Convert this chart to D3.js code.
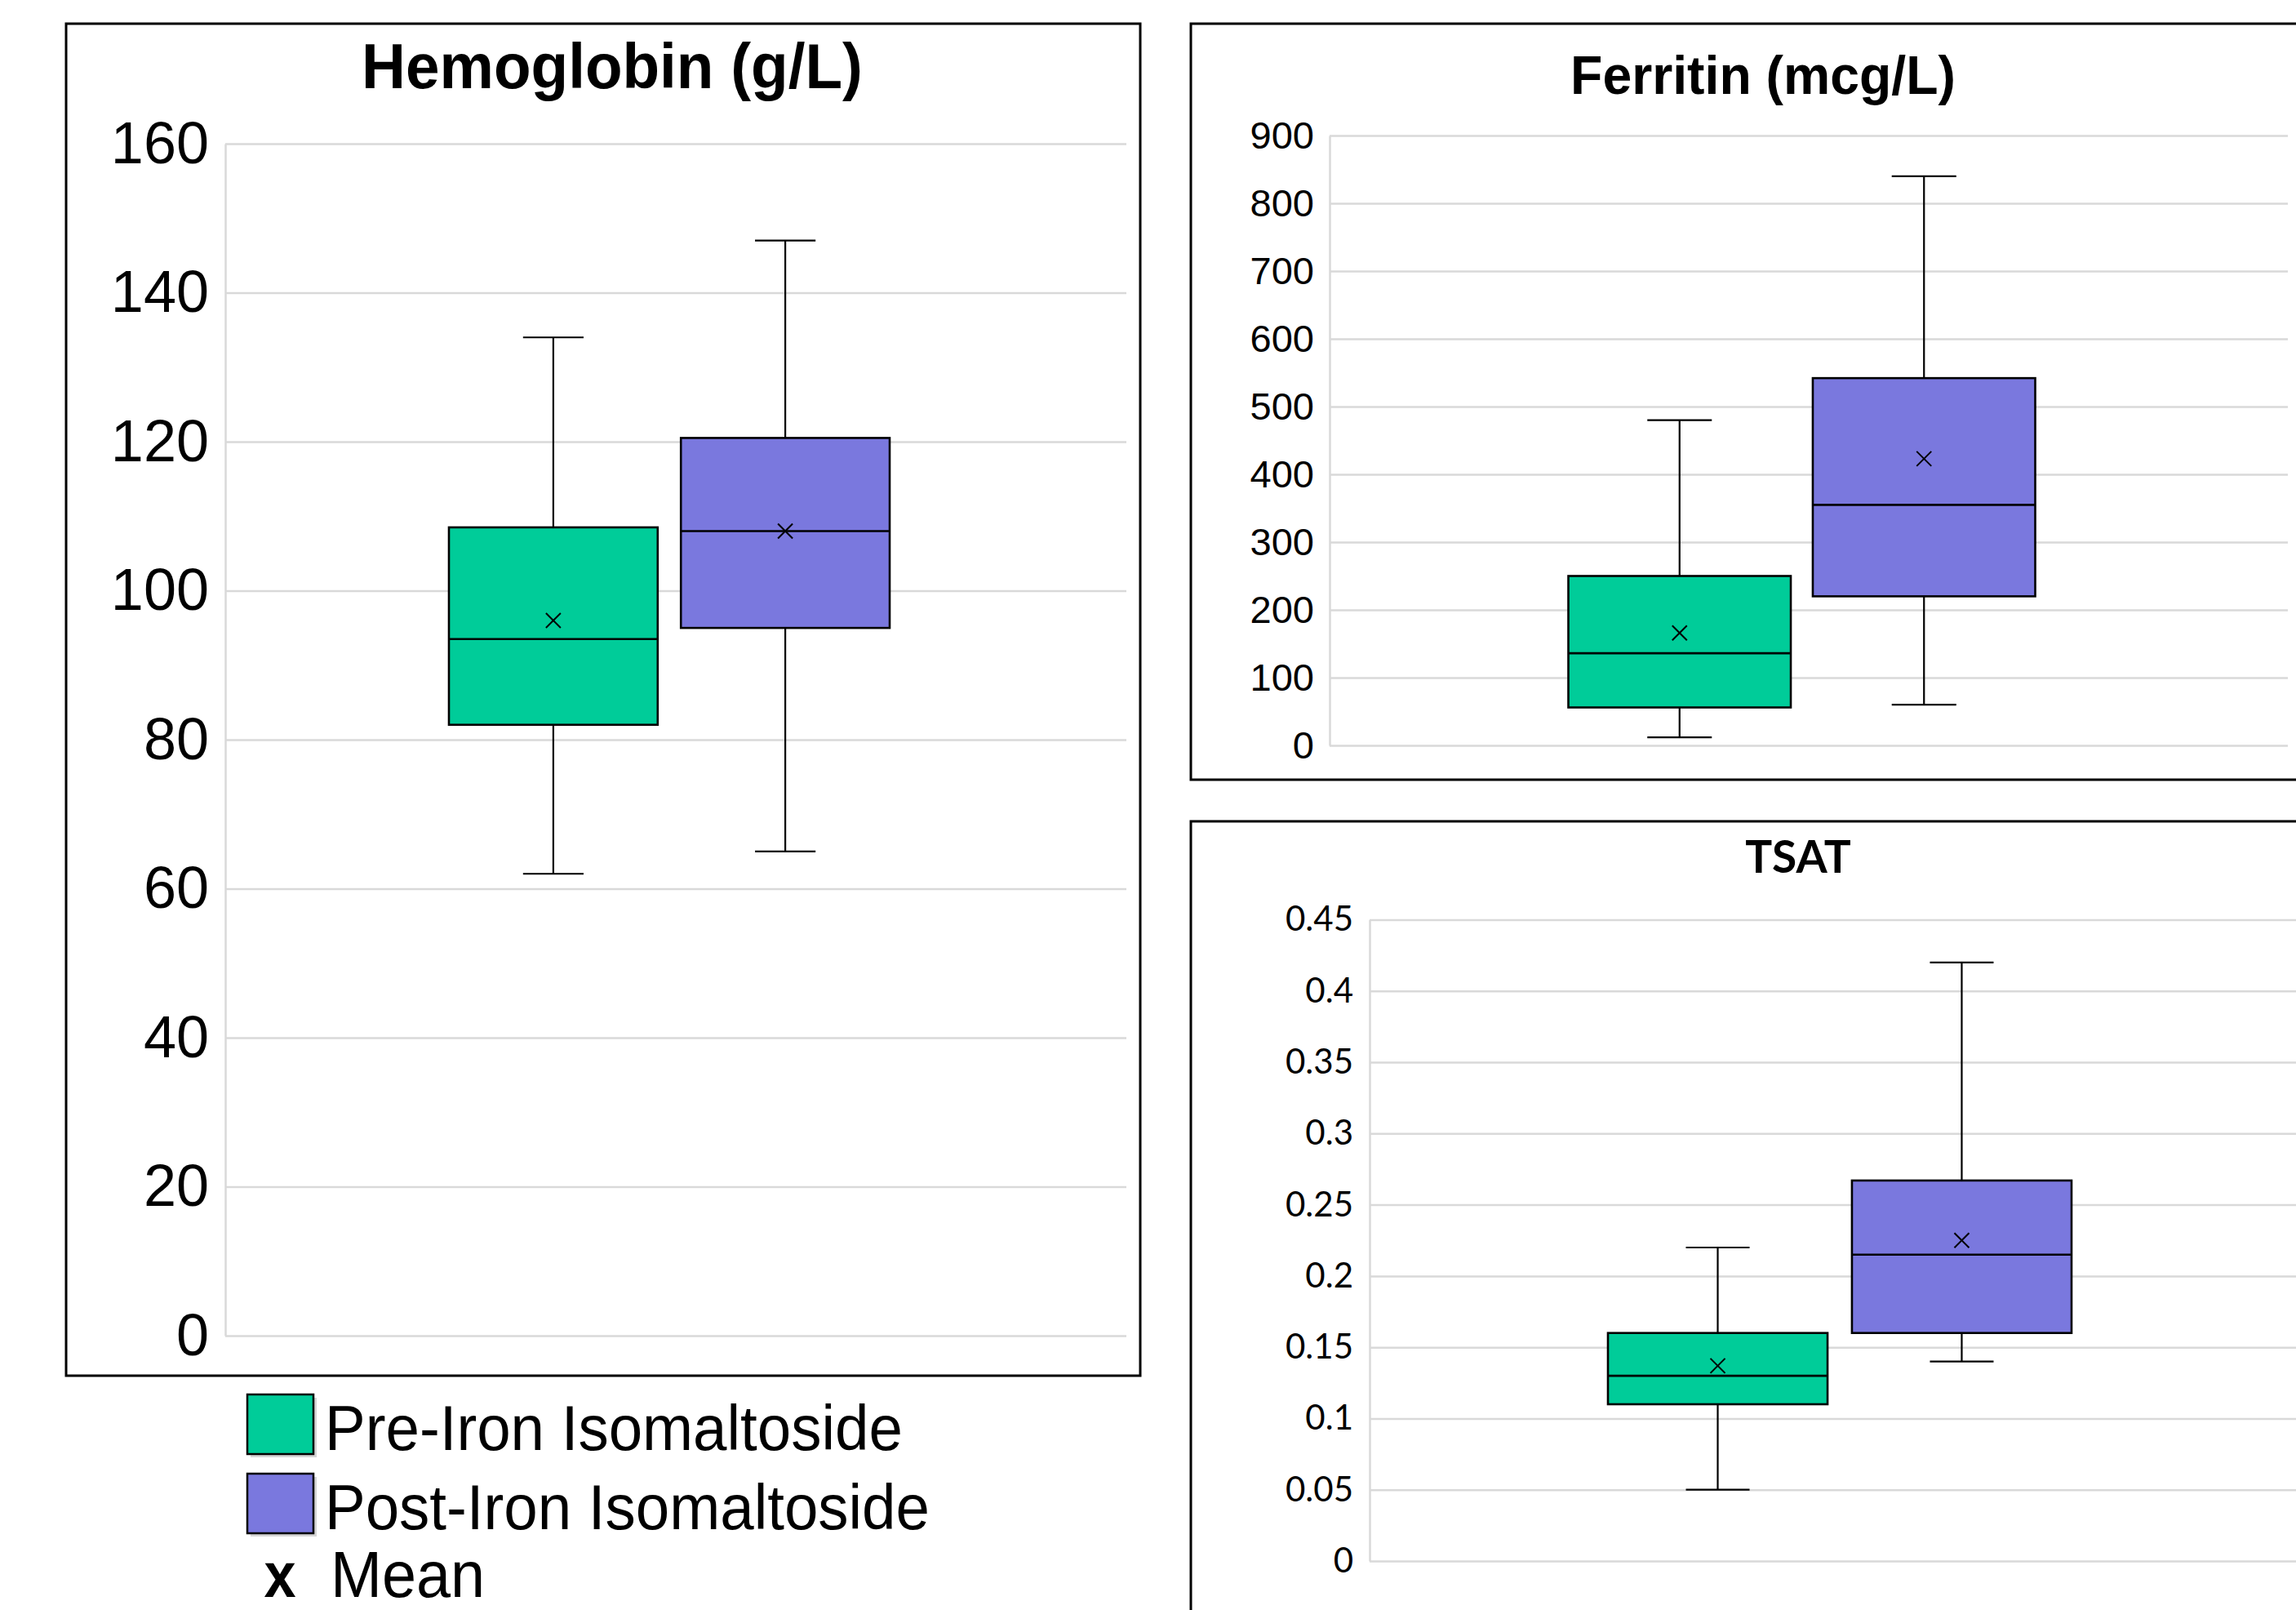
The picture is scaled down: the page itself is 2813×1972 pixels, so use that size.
<!DOCTYPE html>
<html>
<head>
<meta charset="utf-8">
<script src="https://cdn.jsdelivr.net/npm/d3@7"></script>
<style>body{margin:0;background:#fff}</style>
</head>
<body>
<svg id="chart" width="2813" height="1972"></svg>
<script>
// ---------- DATA ----------
const seriesNames = ["Pre-Iron Isomaltoside", "Post-Iron Isomaltoside"];
const seriesColors = ["#00CC99", "#7A78DE"];

// Hemoglobin (g/L)
const hbMin    = [62, 65];
const hbQ1     = [82, 95];
const hbMedian = [93.5, 108];
const hbQ3     = [108.5, 120.5];
const hbMax    = [134, 147];
const hbMean   = [96, 108];
const hbTicks  = [0, 20, 40, 60, 80, 100, 120, 140, 160];

// Ferritin (mcg/L)
const feMin    = [12, 60];
const feQ1     = [56, 220];
const feMedian = [136, 355];
const feQ3     = [250, 542];
const feMax    = [480, 840];
const feMean   = [166, 423];
const feTicks  = [0, 100, 200, 300, 400, 500, 600, 700, 800, 900];

// TSAT
const tsMin    = [0.05, 0.14];
const tsQ1     = [0.11, 0.16];
const tsMedian = [0.13, 0.215];
const tsQ3     = [0.16, 0.267];
const tsMax    = [0.22, 0.42];
const tsMean   = [0.137, 0.225];
const tsTicks  = [0, 0.05, 0.1, 0.15, 0.2, 0.25, 0.3, 0.35, 0.4, 0.45];
const tsTickLabels = ["0", "0.05", "0.1", "0.15", "0.2", "0.25", "0.3", "0.35", "0.4", "0.45"];

const legendMeanLabel = "Mean";

// ---------- DRAW ----------
const svg = d3.select("#chart");
svg.append("rect").attr("width", 2813).attr("height", 1972).attr("fill", "#fff");

function panel(cfg) {
  const g = svg.append("g");
  // frame
  g.append("rect")
    .attr("x", cfg.frame[0]).attr("y", cfg.frame[1])
    .attr("width", cfg.frame[2]).attr("height", cfg.frame[3])
    .attr("fill", "none").attr("stroke", "#000").attr("stroke-width", 3);

  const y = d3.scaleLinear()
    .domain([0, cfg.ticks[cfg.ticks.length - 1]])
    .range([cfg.bottom, cfg.top]);

  const x = d3.scaleBand()
    .domain(seriesNames)
    .range([cfg.cx - cfg.half, cfg.cx + cfg.half])
    .paddingInner(cfg.pad).paddingOuter(0);

  const axis = d3.axisLeft(y)
    .tickValues(cfg.ticks)
    .tickSize(-(cfg.right - cfg.left))
    .tickSizeOuter(0)
    .tickPadding(cfg.tickPad)
    .tickFormat((d, i) => cfg.labels ? cfg.labels[i] : String(d));

  const ag = g.append("g").attr("transform", `translate(${cfg.left},0)`).call(axis);
  ag.select(".domain").attr("stroke", "#d9d9d9").attr("stroke-width", 2.5);
  ag.selectAll(".tick line").attr("stroke", "#d9d9d9").attr("stroke-width", 2.5);
  ag.selectAll(".tick text")
    .attr("fill", "#000")
    .style("font-family", cfg.tickFont)
    .style("font-size", cfg.tickSize + "px");

  // title
  g.append("text")
    .attr("transform", `translate(${cfg.titleX},${cfg.titleY}) scale(${cfg.titleScale || 1},1)`)
    .attr("text-anchor", "middle")
    .style("font-family", cfg.titleFont)
    .style("font-weight", "bold")
    .style("font-size", cfg.titleSize + "px")
    .attr("fill", "#000")
    .text(cfg.title);

  const d = cfg.data;
  seriesNames.forEach((s, i) => {
    const bx = x(s), bw = x.bandwidth(), cx = bx + bw / 2;
    const capW = bw * 0.29;
    const lines = g.append("g").attr("stroke", "#000").attr("stroke-width", 2.2);
    // whiskers
    lines.append("line").attr("x1", cx).attr("x2", cx).attr("y1", y(d.max[i])).attr("y2", y(d.q3[i]));
    lines.append("line").attr("x1", cx).attr("x2", cx).attr("y1", y(d.q1[i])).attr("y2", y(d.min[i]));
    lines.append("line").attr("x1", cx - capW / 2).attr("x2", cx + capW / 2).attr("y1", y(d.max[i])).attr("y2", y(d.max[i]));
    lines.append("line").attr("x1", cx - capW / 2).attr("x2", cx + capW / 2).attr("y1", y(d.min[i])).attr("y2", y(d.min[i]));
    // box
    g.append("rect")
      .attr("x", bx).attr("y", y(d.q3[i]))
      .attr("width", bw).attr("height", y(d.q1[i]) - y(d.q3[i]))
      .attr("fill", seriesColors[i]).attr("stroke", "#000").attr("stroke-width", 2.6);
    // median
    g.append("line")
      .attr("x1", bx).attr("x2", bx + bw)
      .attr("y1", y(d.median[i])).attr("y2", y(d.median[i]))
      .attr("stroke", "#000").attr("stroke-width", 2.6);
    // mean marker
    const my = y(d.mean[i]), r = 9;
    const mk = g.append("g").attr("stroke", "#000").attr("stroke-width", 2);
    mk.append("line").attr("x1", cx - r).attr("x2", cx + r).attr("y1", my - r).attr("y2", my + r);
    mk.append("line").attr("x1", cx - r).attr("x2", cx + r).attr("y1", my + r).attr("y2", my - r);
  });
}

panel({
  title: "Hemoglobin (g/L)",
  frame: [81, 29, 1316, 1656],
  left: 276, right: 1380, top: 176, bottom: 1636,
  ticks: hbTicks, tickFont: "'Liberation Sans', Arial, sans-serif", tickSize: 72, tickPad: 20,
  titleX: 750, titleY: 108, titleFont: "'Liberation Sans', Arial, sans-serif", titleSize: 77, titleScale: 0.97,
  cx: 820, half: 270, pad: 0.1,
  data: {min: hbMin, q1: hbQ1, median: hbMedian, q3: hbQ3, max: hbMax, mean: hbMean}
});

panel({
  title: "Ferritin (mcg/L)",
  frame: [1459, 29, 1420, 926],
  left: 1629, right: 2803, top: 166, bottom: 913,
  ticks: feTicks, tickFont: "'Liberation Sans', Arial, sans-serif", tickSize: 47, tickPad: 19,
  titleX: 2160, titleY: 115, titleFont: "'Liberation Sans', Arial, sans-serif", titleSize: 66, titleScale: 0.975,
  cx: 2207.5, half: 286, pad: 0.09,
  data: {min: feMin, q1: feQ1, median: feMedian, q3: feQ3, max: feMax, mean: feMean}
});

panel({
  title: "TSAT",
  frame: [1459, 1006, 1500, 1100],
  left: 1678, right: 2840, top: 1126.5, bottom: 1912,
  ticks: tsTicks, labels: tsTickLabels, tickFont: "Lato, 'Open Sans', sans-serif", tickSize: 42, tickPad: 20,
  titleX: 2203, titleY: 1069, titleFont: "Lato, 'Open Sans', sans-serif", titleSize: 55,
  cx: 2254, half: 284, pad: 0.1,
  data: {min: tsMin, q1: tsQ1, median: tsMedian, q3: tsQ3, max: tsMax, mean: tsMean}
});

// ---------- LEGEND ----------
const lg = svg.append("g");
const legendFont = "'Liberation Sans', Arial, sans-serif";
const legendScale = 0.955;
seriesNames.forEach((s, i) => {
  const yy = 1708 + i * 97;
  lg.append("rect").attr("x", 307).attr("y", yy + 4).attr("width", 81).attr("height", 73).attr("fill", "#bbb").attr("opacity", 0.6);
  lg.append("rect").attr("x", 303).attr("y", yy).attr("width", 81).attr("height", 73)
    .attr("fill", seriesColors[i]).attr("stroke", "#000").attr("stroke-width", 2.5);
  lg.append("text").attr("transform", `translate(398,${yy + 68}) scale(${legendScale},1)`)
    .style("font-family", legendFont).style("font-size", "78px").attr("fill", "#000")
    .text(s);
});
lg.append("text").attr("transform", `translate(343,1956) scale(0.9,1)`).attr("text-anchor", "middle")
  .style("font-family", legendFont).style("font-weight", "bold").style("font-size", "78px")
  .text("x");
lg.append("text").attr("transform", `translate(405,1956) scale(0.945,1)`)
  .style("font-family", legendFont).style("font-size", "80px")
  .text(legendMeanLabel);
</script>
</body>
</html>
